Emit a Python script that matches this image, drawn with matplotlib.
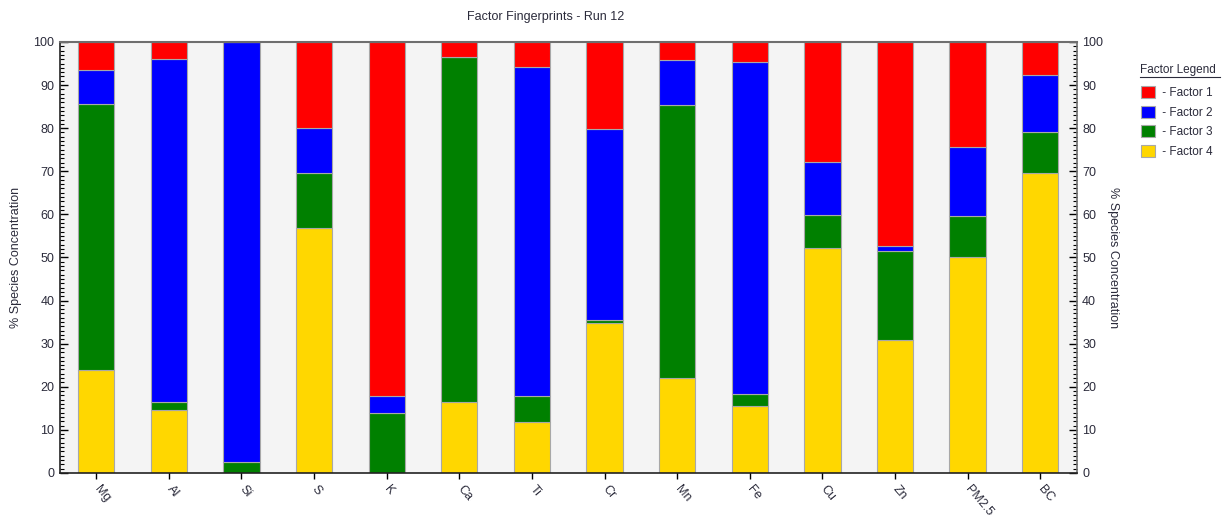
import matplotlib
matplotlib.use("Agg")
import matplotlib.pyplot as plt
import numpy as np
from matplotlib.ticker import MultipleLocator
from matplotlib.lines import Line2D

plt.rcParams['font.family'] = ['Liberation Sans', 'DejaVu Sans']

species = ["Mg", "Al", "Si", "S", "K", "Ca", "Ti", "Cr", "Mn", "Fe", "Cu", "Zn", "PM2.5", "BC"]

# Percent of each species apportioned to each factor
factor4 = [23.9, 14.5, 0.0, 56.8, 0.0, 16.5, 11.8, 34.7, 22.0, 15.5, 52.1, 30.8, 50.2, 69.6]
factor3 = [61.7, 2.0, 2.5, 12.8, 13.8, 79.9, 6.1, 0.7, 63.4, 2.8, 7.8, 20.8, 9.4, 9.4]
factor2 = [7.9, 79.5, 97.5, 10.4, 4.1, 0.0, 76.3, 44.3, 10.3, 77.0, 12.3, 1.1, 16.0, 13.3]
factor1 = [6.5, 4.0, 0.0, 20.0, 82.1, 3.6, 5.8, 20.3, 4.3, 4.7, 27.8, 47.3, 24.4, 7.7]

factor_names = ["Factor 1", "Factor 2", "Factor 3", "Factor 4"]
factor_colors = {"Factor 1": "#ff0000", "Factor 2": "#0000ff",
                 "Factor 3": "#008000", "Factor 4": "#ffd700"}

text_color = "#2b2b3b"

fig = plt.figure(figsize=(12.22, 5.18), dpi=100)
ax = fig.add_axes([0.049, 0.087, 0.832, 0.832])
ax.set_facecolor("#f4f4f4")

x = np.arange(len(species))
width = 0.5
bottom = np.zeros(len(species))
handles = {}
for name, vals in [("Factor 4", factor4), ("Factor 3", factor3),
                   ("Factor 2", factor2), ("Factor 1", factor1)]:
    vals = np.array(vals)
    bars = ax.bar(x, vals, width, bottom=bottom, color=factor_colors[name],
                  edgecolor="#a8a8a8", linewidth=0.8, zorder=2)
    handles[name] = bars
    bottom += vals

ax.set_xlim(-0.5, len(species) - 0.5)
ax.set_ylim(0, 100)

ax.yaxis.set_major_locator(MultipleLocator(10))
ax.yaxis.set_minor_locator(MultipleLocator(1))
ax.tick_params(axis='y', which='major', direction='in', length=6, width=1,
               labelsize=9, labelcolor=text_color, left=True, right=True,
               labelleft=True, labelright=True, pad=4)
ax.tick_params(axis='y', which='minor', direction='in', length=3, width=0.8,
               left=True, right=True)
ax.set_xticks(x)
ax.set_xticklabels(species)
ax.tick_params(axis='x', direction='inout', length=9, width=1, labelsize=9,
               labelcolor=text_color, pad=6)
for lbl in ax.get_xticklabels():
    lbl.set_rotation(-50)
    lbl.set_ha('left')
    lbl.set_va('center')
    lbl.set_rotation_mode('anchor')

for side in ["left", "bottom"]:
    ax.spines[side].set_color("#222222")
    ax.spines[side].set_linewidth(1.2)
ax.spines["top"].set_color("#6e6e6e")
ax.spines["top"].set_linewidth(1.5)
ax.spines["right"].set_color("#6e6e6e")
ax.spines["right"].set_linewidth(1.2)

ax.set_ylabel("% Species Concentration", fontsize=9, color=text_color, labelpad=8)
fig.text(0.911, 0.503, "% Species Concentration", rotation=-90, fontsize=9,
         color=text_color, ha='center', va='center')

fig.text(0.4465, 0.968, "Factor Fingerprints - Run 12", fontsize=9,
         color=text_color, ha='center', va='center')

# Legend with underlined heading
fig.text(0.9325, 0.864, "Factor Legend", fontsize=8.5, color=text_color,
         ha='left', va='center')
fig.add_artist(Line2D([0.9325, 0.998], [0.851, 0.851], color=text_color,
                      linewidth=0.8))
leg = fig.legend([handles[n] for n in factor_names],
                 [" - " + n for n in factor_names],
                 loc='upper left', bbox_to_anchor=(0.9295, 0.843),
                 frameon=False, fontsize=8.5, handlelength=1.2,
                 handleheight=1.2, handletextpad=0.4, labelspacing=0.55,
                 borderaxespad=0)
for t in leg.get_texts():
    t.set_color(text_color)

fig.savefig("out.png", dpi=100)
